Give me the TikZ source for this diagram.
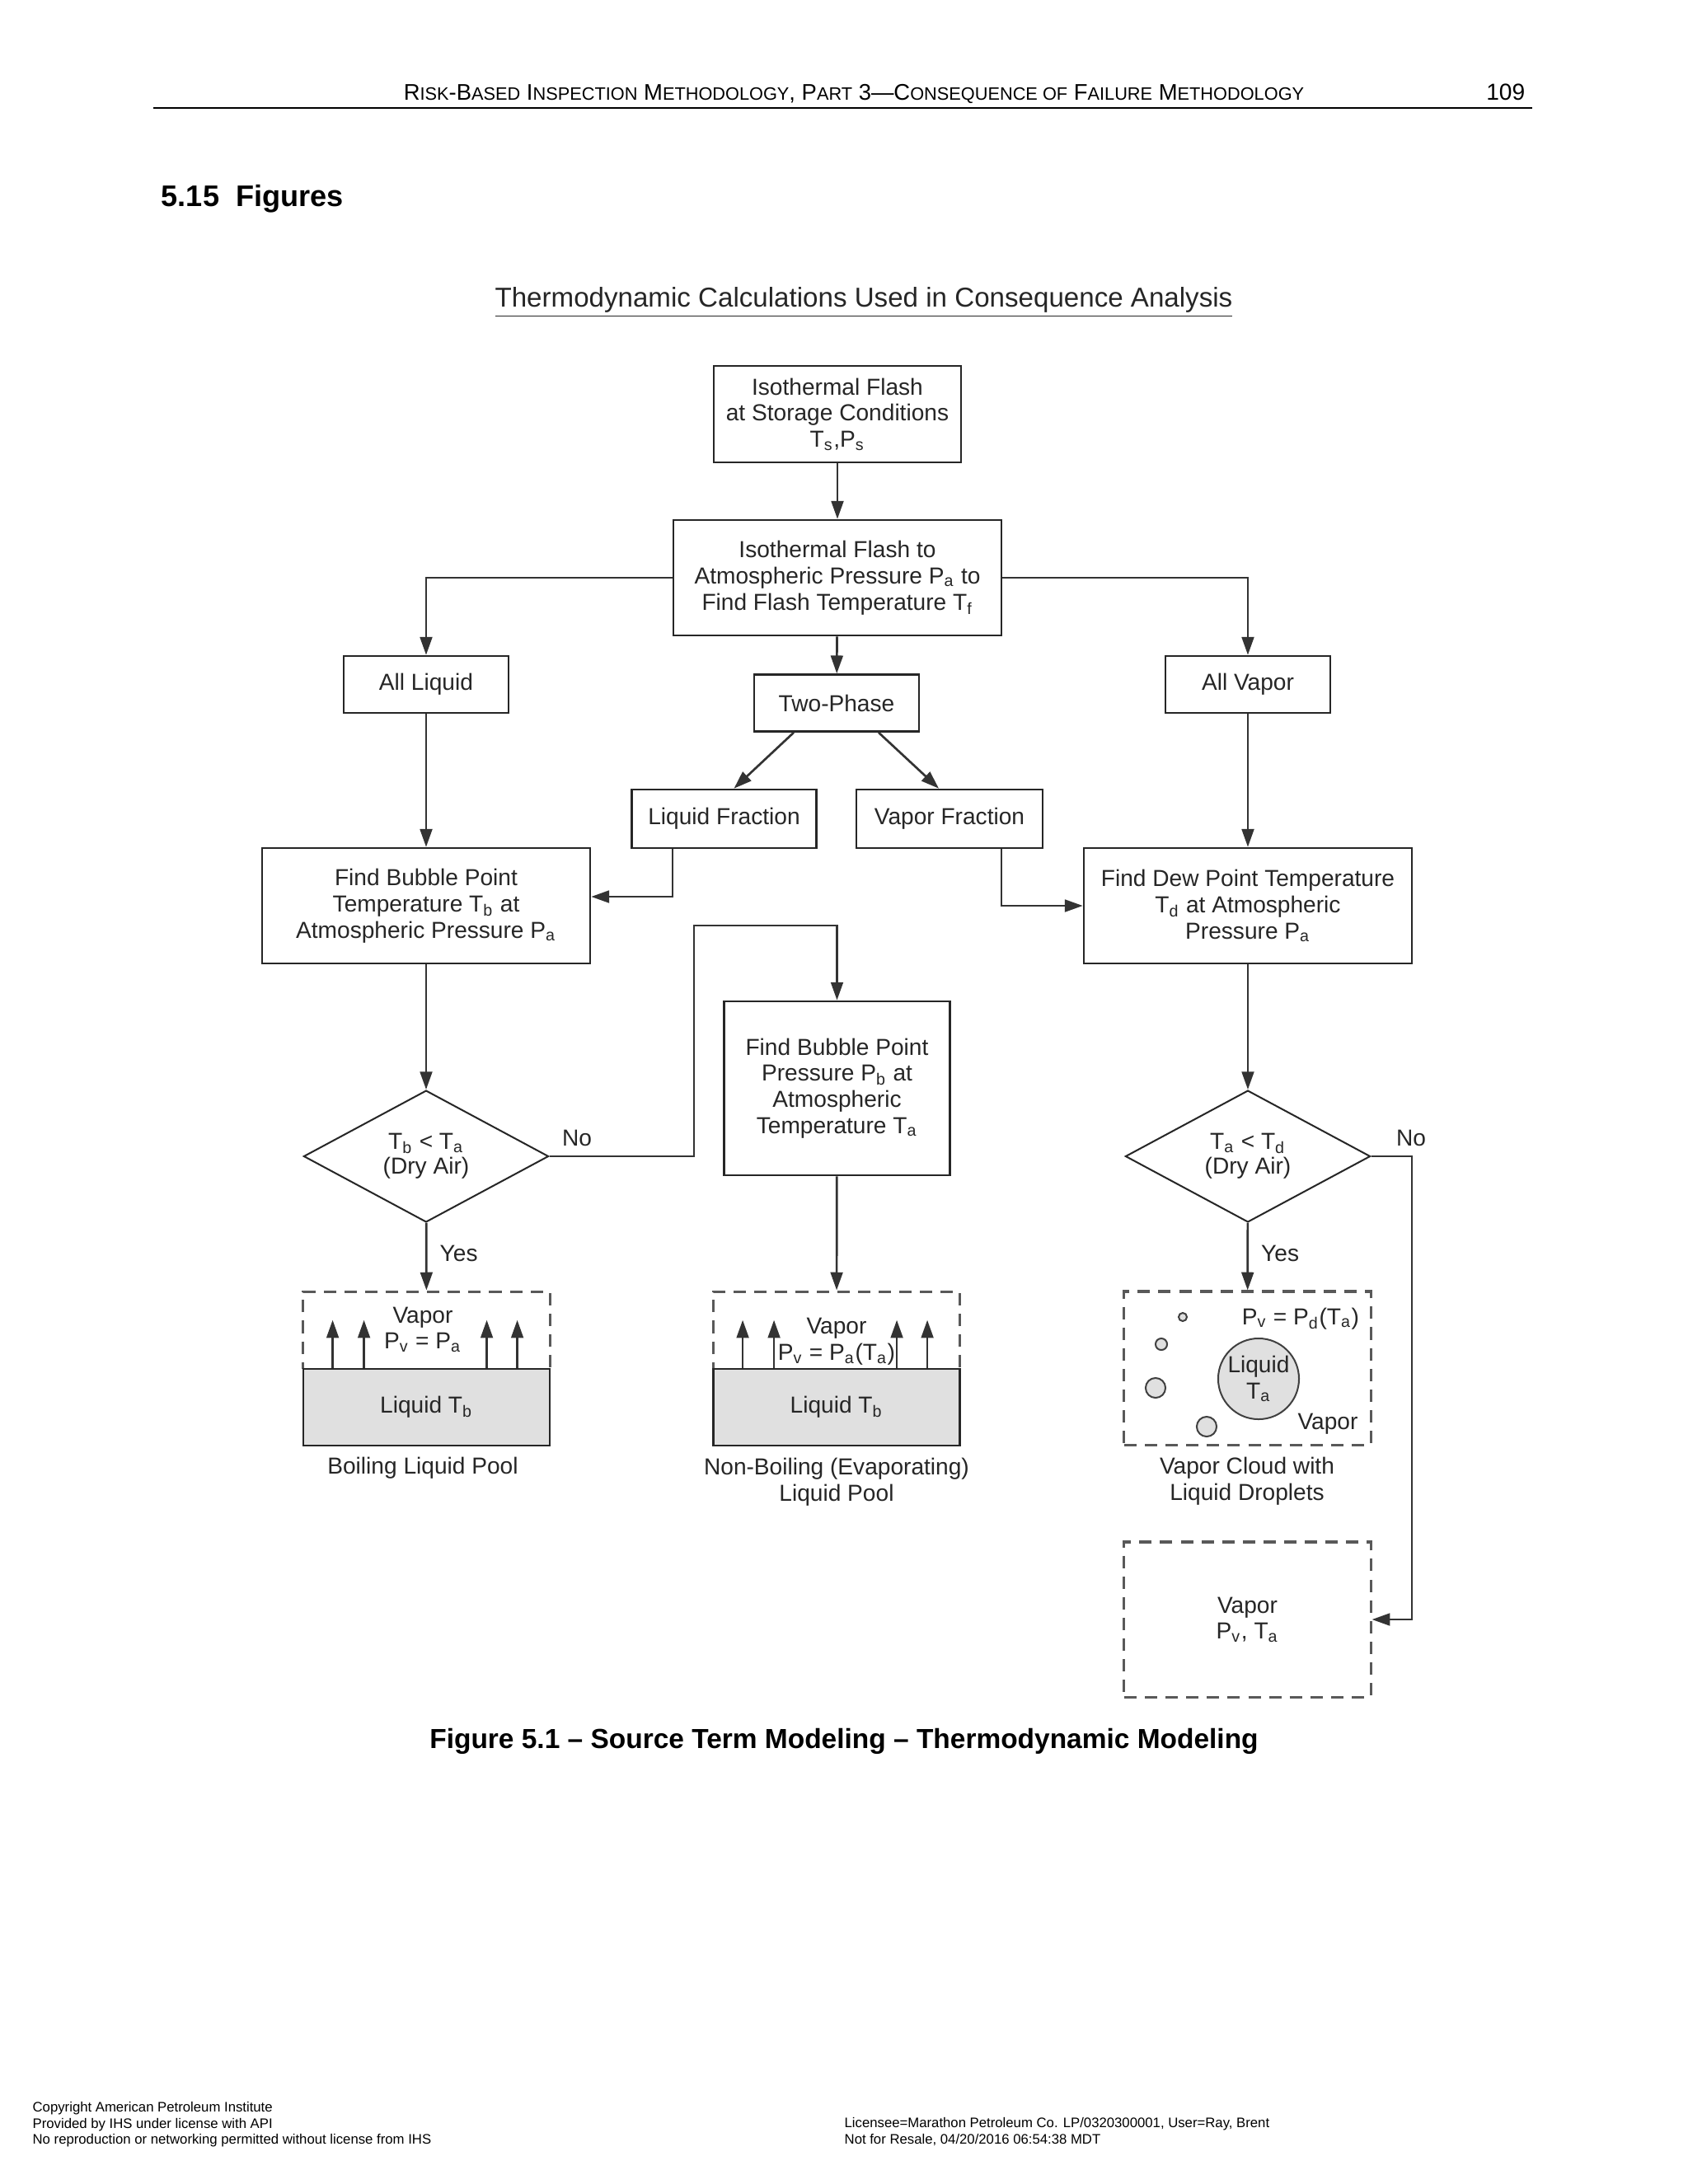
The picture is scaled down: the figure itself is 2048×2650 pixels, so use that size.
\documentclass[tikz,border=0pt]{standalone}
\usepackage{fontspec}
\setmainfont{Liberation Sans}
\usetikzlibrary{arrows.meta,positioning,calc,shapes.geometric}

\newcommand\sbs[1]{\textsubscript{#1}}
\newcommand\hsc[1]{{\fontsize{6.5}{7}\selectfont #1}}

\begin{document}
\begin{tikzpicture}[x=0.29883pt,y=-0.29883pt]
\tikzset{
  box/.style={draw=black!85, line width=0.8pt, rectangle, align=center,
    text=black!85, inner sep=0pt, font=\fontsize{8.4}{9.5}\selectfont},
  decide/.style={draw=black!85, line width=0.6pt, diamond, align=center,
    text=black!85, inner sep=0pt, minimum width=88.8pt, minimum height=41.5pt,
    font=\fontsize{8.4}{9}\selectfont},
  vapzone/.style={draw=black!65, line width=0.9pt, dash pattern=on 4.5pt off 3pt,
    rectangle, inner sep=0pt, minimum width=89.4pt},
  liqzone/.style={draw=black!85, line width=0.8pt, fill=black!12, rectangle,
    inner sep=0pt, minimum width=89.4pt, minimum height=27.8pt,
    text=black!85, font=\fontsize{8.4}{9.5}\selectfont},
  lbl/.style={text=black!85, align=center, inner sep=0pt,
    font=\fontsize{8.4}{9.5}\selectfont},
  flow/.style={draw=black!80, line width=0.8pt, -{Triangle[length=6.5pt,width=4.4pt]}},
  drop/.style={draw=black!75, line width=0.6pt, fill=black!12}
}
\useasboundingbox (0,0) rectangle (2048,2650);
\fill[white] (0,0) rectangle (2048,2650);

% page header
\node[anchor=base] (hdr) at (1036,121) {\fontsize{8.2}{9}\selectfont
  R\hsc{ISK}-B\hsc{ASED} I\hsc{NSPECTION} M\hsc{ETHODOLOGY}, P\hsc{ART} 3---C\hsc{ONSEQUENCE OF} F\hsc{AILURE} M\hsc{ETHODOLOGY}};
\node[anchor=base east] (pgno) at (1862,121) {\fontsize{8.4}{9}\selectfont 109};
\draw[line width=0.8pt] (186,131) -- (1859,131);
\node[anchor=west, font=\fontsize{10.8}{12}\selectfont\bfseries] (sect) at (184,241) {5.15\ \ Figures};

% title
\node[lbl, font=\fontsize{9.9}{11}\selectfont] (title) at (1048,367)
  {\underline{Thermodynamic Calculations Used in Consequence Analysis}};

% boxes
\node[box, minimum width=89.6pt, minimum height=35pt] (isoS) at (1016,502.5)
  {Isothermal Flash\\at Storage Conditions\\T\sbs{s},P\sbs{s}};
\node[box, minimum width=118.9pt, minimum height=41.8pt] (isoA) at (1016,701)
  {Isothermal Flash to\\Atmospheric Pressure P\sbs{a} to\\Find Flash Temperature T\sbs{f}};
\node[box, minimum width=59.8pt, minimum height=20.6pt] (allliq) at (517,830.5) {All Liquid};
\node[box, minimum width=59.8pt, minimum height=20.6pt] (twophase) at (1015,853) {Two-Phase};
\node[box, minimum width=59.8pt, minimum height=20.6pt] (allvap) at (1514,830.5) {All Vapor};
\node[box, minimum width=66.9pt, minimum height=21.2pt] (liqfrac) at (878.5,993.5) {Liquid Fraction};
\node[box, minimum width=67.5pt, minimum height=21.2pt] (vapfrac) at (1152,993.5) {Vapor Fraction};
\node[box, minimum width=118.9pt, minimum height=41.8pt] (bubT) at (517,1099)
  {Find Bubble Point\\Temperature T\sbs{b} at\\Atmospheric Pressure P\sbs{a}};
\node[box, minimum width=118.9pt, minimum height=41.8pt] (dewT) at (1514,1099)
  {Find Dew Point Temperature\\T\sbs{d} at Atmospheric\\Pressure P\sbs{a}};
\node[box, minimum width=81.9pt, minimum height=63.1pt] (bubP) at (1015.5,1320.5)
  {Find Bubble Point\\Pressure P\sbs{b} at\\Atmospheric\\Temperature T\sbs{a}};
\node[decide] (dia1) at (517,1403) {T\sbs{b} < T\sbs{a}\\(Dry Air)};
\node[decide] (dia2) at (1514,1403) {T\sbs{a} < T\sbs{d}\\(Dry Air)};

% boiling pool
\node[vapzone, minimum height=28.1pt] (boilvap) at (517.5,1614) {};
\node[liqzone] (boilliq) at (517.5,1707.5) {Liquid T\sbs{b}};
\node[lbl] (boiltxt) at (513,1613) {Vapor\\P\sbs{v} = P\sbs{a}};
\node[lbl] (boilcap) at (513,1781) {Boiling Liquid Pool};

% evaporating pool
\node[vapzone, minimum height=28.1pt] (evapvap) at (1015,1614) {};
\node[liqzone] (evapliq) at (1015,1707.5) {Liquid T\sbs{b}};
\node[lbl] (evaptxt) at (1015,1628) {Vapor\\P\sbs{v} = P\sbs{a}(T\sbs{a})};
\node[lbl] (evapcap) at (1015,1798) {Non-Boiling (Evaporating)\\Liquid Pool};

\foreach \pool in {boilliq,evapliq}
  \foreach \dx in {37,75,224,261}
    \draw[flow] ($(\pool.north west)+(\dx,0)$) -- ++(0,-58);

% vapor cloud
\node[vapzone, minimum height=55.6pt] (cloud) at (1513.5,1660) {};
\node[drop, circle, minimum size=29.3pt, inner sep=0pt, align=center, text=black!85,
  font=\fontsize{8.4}{9.5}\selectfont] (bigdrop) at (1527,1673) {Liquid\\T\sbs{a}};
\foreach \cx/\cy/\r in {1435/1598/1.5pt,1409/1631/2.1pt,1402/1684/3.6pt,1464/1731/3.6pt}
  \draw[drop] (\cx,\cy) circle (\r);
\node[lbl] (cloudp) at (1578,1600) {P\sbs{v} = P\sbs{d}(T\sbs{a})};
\node[lbl] (cloudv) at (1611,1728) {Vapor};
\node[lbl] (cloudcap) at (1513,1797) {Vapor Cloud with\\Liquid Droplets};

% vapor only
\node[vapzone, minimum height=56.2pt, lbl] (vapbox) at (1513.5,1965) {Vapor\\P\sbs{v}, T\sbs{a}};

% connectors
\draw[flow] (isoS) -- (isoA);
\draw[flow] (isoA.west) -| (allliq.north);
\draw[flow] (isoA.east) -| (allvap.north);
\draw[flow] (isoA) -- (twophase);
\draw[flow] ($(twophase.south)+(-52,0)$) -- ($(liqfrac.north)+(12,0)$);
\draw[flow] ($(twophase.south)+(51,0)$) -- ($(vapfrac.north)+(-13,0)$);
\draw[flow] ($(liqfrac.south)+(-62.5,0)$) |- ($(bubT.east)+(0,-11)$);
\draw[flow] ($(vapfrac.south)+(63,0)$) |- (dewT.west);
\draw[flow] (allliq) -- (bubT);
\draw[flow] (allvap) -- (dewT);
\draw[flow] (bubT) -- (dia1);
\draw[flow] (dewT) -- (dia2);
\draw[flow] (dia1) -- node[lbl, right=4.5pt, pos=0.45] {Yes} (boilvap);
\draw[flow] (dia2) -- node[lbl, right=4.5pt, pos=0.45] {Yes} (cloud);
\draw[flow] (bubP) -- (evapvap);

\coordinate (noL) at (842,1123);
\draw[flow] (dia1.east) -| (noL) -| (bubP.north);
\node[lbl] (nol) at (700,1381) {No};
\coordinate (noR) at (1713,1965);
\draw[flow] (dia2.east) -| (noR) -- (vapbox.east);
\node[lbl] (nor) at (1712,1381) {No};

% figure caption
\node[font=\fontsize{10}{12}\selectfont\bfseries] (figcap) at (1024,2113)
  {Figure 5.1 -- Source Term Modeling -- Thermodynamic Modeling};

% page footer
\node[anchor=north west, align=left, inner sep=0pt, font=\fontsize{5}{5.85}\selectfont] (footL) at (39,2550)
  {Copyright American Petroleum Institute\\Provided by IHS under license with API\\No reproduction or networking permitted without license from IHS};
\node[anchor=north west, align=left, inner sep=0pt, font=\fontsize{5}{5.85}\selectfont] (footR) at (1024,2569)
  {Licensee=Marathon Petroleum Co. LP/0320300001, User=Ray, Brent\\Not for Resale, 04/20/2016 06:54:38 MDT};
\end{tikzpicture}
\end{document}
